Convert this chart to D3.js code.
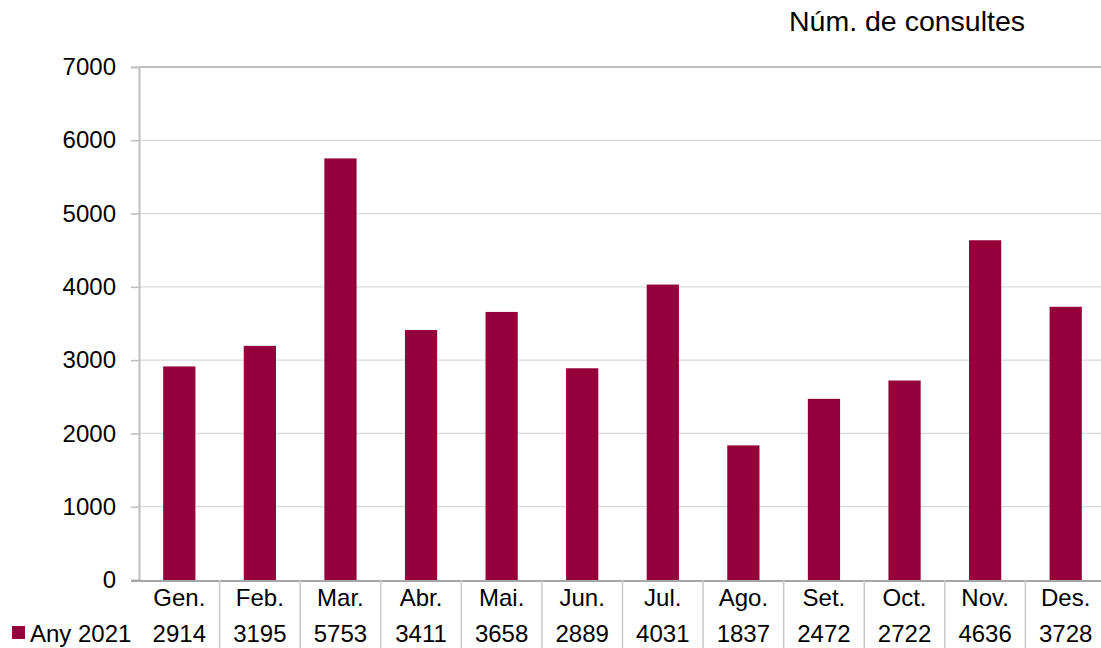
<!DOCTYPE html>
<html><head><meta charset="utf-8">
<script src="https://cdn.jsdelivr.net/npm/d3@7"></script>
<style>body{margin:0;background:#fff}svg{display:block}text{font-family:"Liberation Sans",Arial,sans-serif;fill:#000}</style>
</head><body>
<script>
const months = ["Gen.","Feb.","Mar.","Abr.","Mai.","Jun.","Jul.","Ago.","Set.","Oct.","Nov.","Des."];
const values2021 = [2914,3195,5753,3411,3658,2889,4031,1837,2472,2722,4636,3728];
const yTicks = [0,1000,2000,3000,4000,5000,6000,7000];
const seriesName = "Any 2021";
const unitLabel = "Núm. de consultes";

const W=1101,H=648, FS=24;
const svg=d3.select("body").append("svg").attr("width",W).attr("height",H);
const pL=139, pR=1106, pT=67, pB=580;
const x=d3.scaleBand().domain(months).range([pL,pR]).paddingInner(0.6).paddingOuter(0.3);
const xb=d3.scaleBand().domain(months).range([pL,pR]);
const y=d3.scaleLinear().domain([0,7000]).range([pB,pT]);

// gridlines
svg.append("g").selectAll("line").data(yTicks.filter(d=>d>0&&d<7000)).join("line")
  .attr("x1",pL).attr("x2",W).attr("y1",d=>y(d)).attr("y2",d=>y(d))
  .attr("stroke","#d9d9d9").attr("stroke-width",1.3);
// top border
svg.append("line").attr("x1",pL).attr("x2",W).attr("y1",y(7000)).attr("y2",y(7000))
  .attr("stroke","#c0c0c0").attr("stroke-width",2);

// y axis
const ya=svg.append("g").attr("transform",`translate(${pL},0)`)
  .call(d3.axisLeft(y).tickValues(yTicks).tickSize(8).tickPadding(15).tickFormat(d3.format("d")));
ya.select(".domain").attr("stroke","#bfbfbf").attr("stroke-width",2);
ya.selectAll(".tick line").attr("stroke","#bfbfbf").attr("stroke-width",1.5);
ya.selectAll(".tick text").attr("font-size",FS).attr("font-family","Liberation Sans, Arial, sans-serif").attr("fill","#000");

// bars
svg.append("g").selectAll("rect").data(values2021).join("rect")
  .attr("x",(d,i)=>x(months[i])).attr("width",x.bandwidth())
  .attr("y",d=>y(d)).attr("height",d=>pB-y(d))
  .attr("fill","#95003b");

// bottom axis line
svg.append("line").attr("x1",131).attr("x2",W).attr("y1",pB+1).attr("y2",pB+1)
  .attr("stroke","#a6a6a6").attr("stroke-width",2);

// table separators
svg.append("g").selectAll("line").data(months.slice(1)).join("line")
  .attr("x1",d=>xb(d)).attr("x2",d=>xb(d)).attr("y1",pB).attr("y2",H)
  .attr("stroke","#c8c8c8").attr("stroke-width",1.5);

// month labels
svg.append("g").selectAll("text").data(months).join("text")
  .attr("x",d=>xb(d)+xb.bandwidth()/2).attr("y",606)
  .attr("text-anchor","middle").attr("font-size",FS).text(d=>d);
// values
svg.append("g").selectAll("text").data(values2021).join("text")
  .attr("x",(d,i)=>xb(months[i])+xb.bandwidth()/2).attr("y",642)
  .attr("text-anchor","middle").attr("font-size",FS).text(d=>d);

// legend
svg.append("rect").attr("x",12).attr("y",626).attr("width",13).attr("height",13).attr("fill","#95003b");
svg.append("text").attr("x",30).attr("y",642).attr("font-size",FS).text(seriesName);

// unit label
svg.append("text").attr("x",789).attr("y",31).attr("font-size",28.5).text(unitLabel);
</script>
</body></html>
